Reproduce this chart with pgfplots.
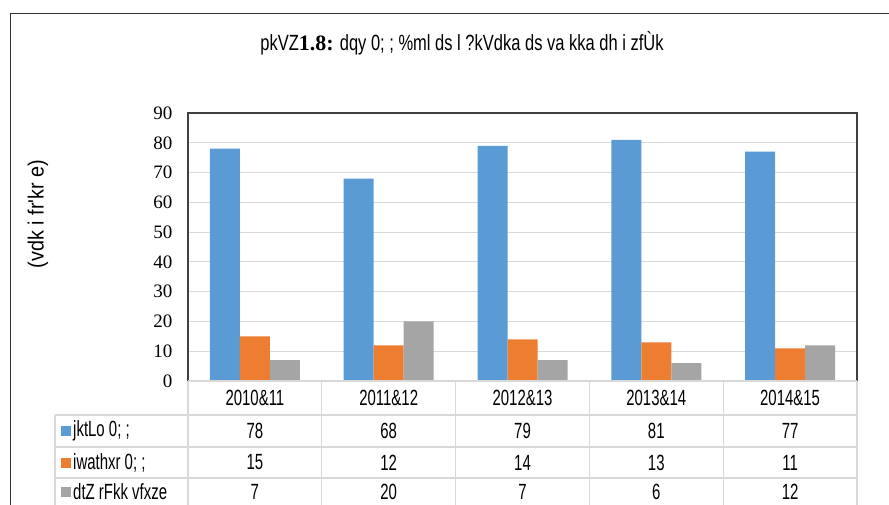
\documentclass[border=0pt]{standalone}
\usepackage{pgfplots}
\pgfplotsset{compat=1.18}
\usepackage{fontspec}
\setmainfont{Liberation Serif}
\newfontfamily\cond[FakeStretch=0.68]{Liberation Sans}
\newfontfamily\condt[FakeStretch=0.75]{Liberation Sans}
\newfontfamily\condy[FakeStretch=0.9]{Liberation Sans}
\definecolor{cblue}{HTML}{5B9BD5}
\definecolor{corange}{HTML}{ED7D31}
\definecolor{cgray}{HTML}{A5A5A5}
\definecolor{tline}{HTML}{D9D9D9}
\begin{document}
\begin{tikzpicture}[x=1pt,y=1pt]
\path[use as bounding box] (0,-504) rectangle (889,0);
\clip (0,-504) rectangle (889,0);
\draw[black!80, line width=1pt] (10,-13) rectangle (905,-530);
\node[font=\condt\fontsize{22}{24}\selectfont] at (462,-43) {pkVZ{\rmfamily\bfseries 1.8:} dqy 0; ; \%ml ds l ?kVdka ds va kka dh i zfÙk};
\node[font=\condy\fontsize{22}{24}\selectfont, rotate=90] at (38,-214) {(vdk i fr'kr e)};
\begin{axis}[at={(188pt,-381pt)}, anchor=south west, scale only axis,
  width=669pt, height=268pt,
  ymin=0, ymax=90, xmin=-0.5, xmax=4.5,
  ytick={0,10,...,90}, xtick=\empty,
  ybar=0pt, bar width=30pt,
  ymajorgrids, grid style={tline, line width=0.8pt},
  major tick length=0pt,
  axis line style={draw=none},
  tick label style={font=\fontsize{19}{19}\selectfont},
  yticklabel style={xshift=-12pt},
  /pgf/number format/assume math mode=true,
  clip=false]
\addplot[fill=cblue, draw=none] coordinates {(0,78)(1,68)(2,79)(3,81)(4,77)};
\addplot[fill=corange, draw=none] coordinates {(0,15)(1,12)(2,14)(3,13)(4,11)};
\addplot[fill=cgray, draw=none] coordinates {(0,7)(1,20)(2,7)(3,6)(4,12)};
\end{axis}
\draw[black!75, line width=1.2pt] (188,-381)--(188,-113)--(857,-113)--(857,-381);
% data table
\begin{scope}[tline, line width=1.3pt]
\draw (188,-381)--(857,-381);
\draw (55,-415)--(857,-415);
\draw (55,-447)--(857,-447);
\draw (55,-478)--(857,-478);
\draw (55,-510)--(857,-510);
\draw (55,-415)--(55,-510);
\foreach \k in {0,...,5} \draw ({188+133.8*\k},-381)--({188+133.8*\k},-510);
\end{scope}
\begin{scope}[font=\cond\fontsize{22}{24}\selectfont]
\foreach \lab [count=\i from 0] in {2010\&11,2011\&12,2012\&13,2013\&14,2014\&15}
  \node at ({188+66.9+133.8*\i},-398) {\lab};
\foreach \v [count=\i from 0] in {78,68,79,81,77}
  \node at ({188+66.9+133.8*\i},-431) {\v};
\foreach \v [count=\i from 0] in {15,12,14,13,11}
  \node at ({188+66.9+133.8*\i},-462.5) {\v};
\foreach \v [count=\i from 0] in {7,20,7,6,12}
  \node[inner sep=0pt] at ({188+66.9+133.8*\i},-492) {\v};
\fill[cblue] (61,-436) rectangle (71,-426);
\fill[corange] (61,-467.5) rectangle (71,-457.5);
\fill[cgray] (61,-497) rectangle (71,-487);
\node[anchor=west, inner sep=0pt] at (73,-431) {jktLo 0; ;};
\node[anchor=west, inner sep=0pt] at (73,-462.5) {iwathxr 0; ;};
\node[anchor=west, inner sep=0pt] at (73,-492) {dtZ rFkk vfxze};
\end{scope}
\end{tikzpicture}
\end{document}
